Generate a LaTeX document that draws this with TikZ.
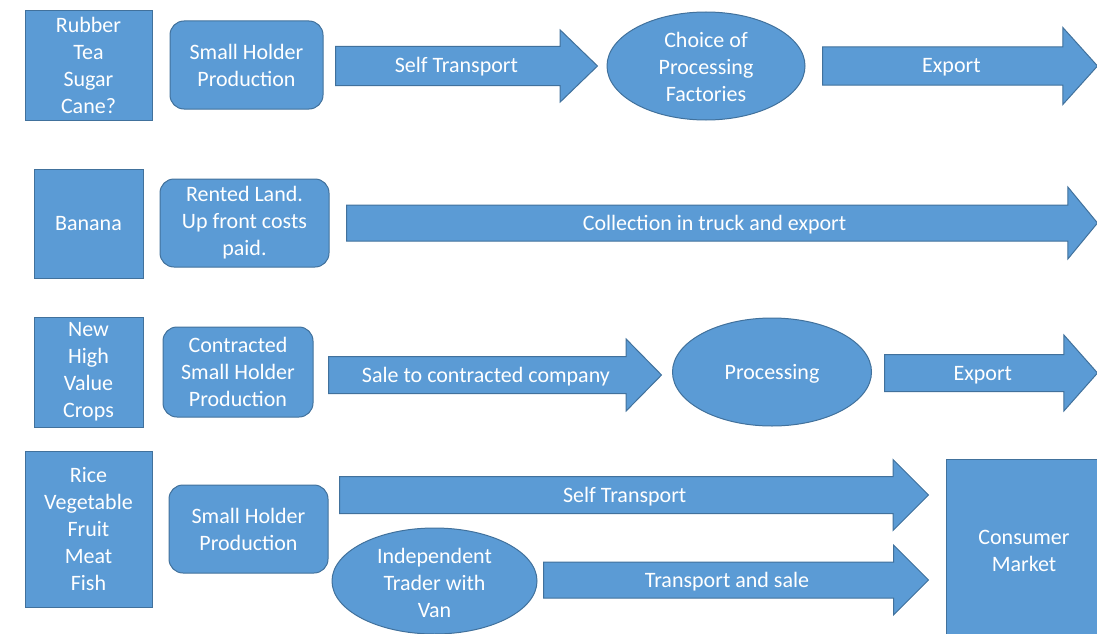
\documentclass[tikz,border=0pt]{standalone}
\usepackage{fontspec}
\setmainfont{Carlito}
\usetikzlibrary{shapes.geometric,shapes.arrows}
\definecolor{blu}{HTML}{5B9BD5}
\definecolor{edge}{HTML}{41719C}
\tikzset{
 shade/.style={draw=edge, fill=blu, line width=1pt, text=white, inner sep=0pt,
  font=\fontsize{22pt}{27pt}\selectfont, align=center},
 crop/.style={shade, rectangle},
 prod/.style={shade, rectangle, rounded corners=14pt},
 oval/.style={shade, ellipse},
 txt/.style={text=white, inner sep=0pt, font=\fontsize{22pt}{27pt}\selectfont, align=center},
 bar/.style={shade, single arrow, anchor=tail, text height=25pt, text depth=11pt}
}

\begin{document}
\begin{tikzpicture}[x=1pt,y=-1pt]
\useasboundingbox (0,0) rectangle (1097,634);

% rubber, tea, sugar cane
\node[crop, minimum width=127pt, minimum height=109pt] (rubber) at (88.5,65.5) {Rubber\\Tea\\Sugar\\Cane?};
\node[prod, minimum width=153pt, minimum height=88pt] (hold1) at (246.5,65) {Small Holder\\Production};
\node[bar, minimum height=262pt, minimum width=71pt, single arrow head extend=16.5pt, single arrow tip angle=88, text height=26pt, text depth=12pt] (self1) at (335,66) {Self Transport};
\node[oval, minimum width=198pt, minimum height=108pt] (choice) at (706,66) {};
\node[txt] (choicetxt) at (706,67) {Choice of\\Processing\\Factories};
\node[bar, minimum height=275pt, minimum width=76pt, single arrow head extend=19.5pt, single arrow tip angle=96, text height=25.5pt, text depth=11.5pt] (export1) at (822,66) {Export};

% banana
\node[crop, minimum width=109pt, minimum height=109pt] (banana) at (88.5,223.5) {Banana};
\node[prod, minimum width=169pt, minimum height=88pt] (rented) at (244.5,223) {Rented Land.\\Up front costs\\paid.};
\node[bar, minimum height=751pt, minimum width=71pt, single arrow head extend=18pt, single arrow tip angle=101, text height=24.5pt, text depth=10.5pt] (collect) at (346,223) {Collection in truck and export};

% new crops
\node[crop, minimum width=109pt, minimum height=110pt] (newcrop) at (88.5,372) {New\\High\\Value\\Crops};
\node[prod, minimum width=150pt, minimum height=90pt] (contract) at (238,372) {Contracted\\Small Holder\\Production};
\node[bar, minimum height=333pt, minimum width=71pt, single arrow head extend=17.5pt, single arrow tip angle=91] (sale) at (328,375) {Sale to contracted company};
\node[oval, minimum width=199pt, minimum height=108pt] (process) at (772,372) {};
\node[txt] (processtxt) at (772,374) {Processing};
\node[bar, minimum height=213pt, minimum width=75pt, single arrow head extend=19.5pt, single arrow tip angle=97] (export2) at (884,373) {Export};

% rice, vegetable ...
\node[crop, minimum width=127pt, minimum height=156pt] (rice) at (88.5,529) {Rice\\Vegetable\\Fruit\\Meat\\Fish};
\node[prod, minimum width=159pt, minimum height=88pt] (hold2) at (248.5,529) {Small Holder\\Production};
\node[bar, minimum height=589pt, minimum width=70pt, single arrow head extend=17pt, single arrow tip angle=90] (self2) at (339,495) {Self Transport};
\node[oval, minimum width=205pt, minimum height=106pt] (trader) at (434.5,581) {};
\node[txt] (tradertxt) at (434.5,583) {Independent\\Trader with\\Van};
\node[bar, minimum height=385pt, minimum width=69pt, single arrow head extend=17pt, single arrow tip angle=90, text height=24.5pt, text depth=10.5pt] (trans) at (543,580) {Transport and sale};
\node[crop, minimum width=168pt, minimum height=191pt] (market) at (1030,554.5) {};
\node[txt] (markettxt) at (1024,551) {Consumer\\Market};
\end{tikzpicture}
\end{document}
